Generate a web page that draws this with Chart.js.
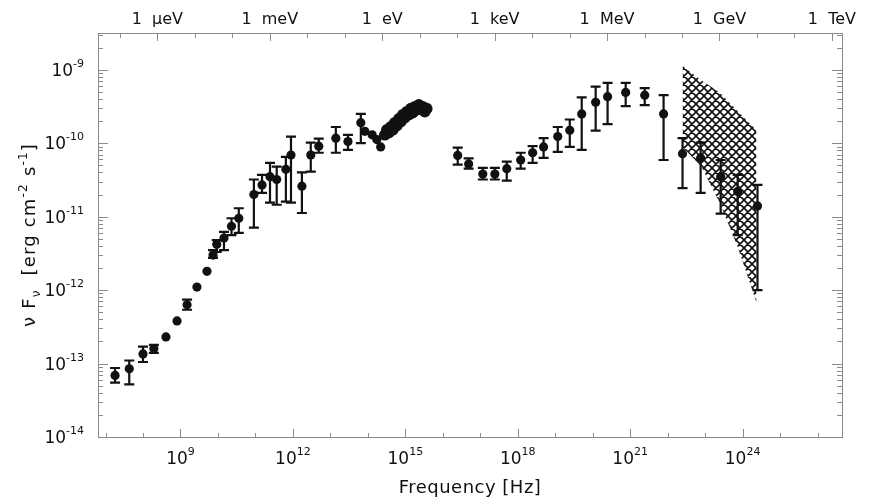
<!DOCTYPE html>
<html>
<head>
<meta charset="utf-8">
<script src="https://cdn.jsdelivr.net/npm/chart.js@4.4.1/dist/chart.umd.min.js"></script>
<style>
  body { margin: 0; background: #fff; }
  #wrap { width: 869px; height: 501px; }
</style>
</head>
<body>
<div id="wrap"><canvas id="sed" width="869" height="501"></canvas></div>
<script>
// measured points: frequency [Hz], nuFnu [erg cm^-2 s^-1]
const freq = [
  1.8e7, 4.3e7, 1.0e8, 1.95e8, 4.1e8, 8.1e8, 1.5e9, 2.75e9, 5.1e9,
  7.4e9, 9.3e9, 1.45e10, 2.3e10, 3.6e10, 9.1e10, 1.5e11, 2.45e11, 3.7e11,
  6.5e11, 8.9e11, 1.74e12, 3.0e12, 4.9e12, 1.4e13, 2.95e13, 6.5e13, 8.3e13,
  1.3e14, 1.74e14, 2.2e14,
  2.5e16, 4.9e16, 1.17e17, 2.45e17, 5.1e17, 1.2e18, 2.5e18, 4.9e18, 1.17e19,
  2.45e19, 5.1e19, 1.2e20, 2.5e20, 7.6e20, 2.45e21, 7.8e21,
  2.5e22, 7.6e22, 2.6e23, 7.4e23, 2.5e24
];
const flux = [
  6.9e-14, 8.5e-14, 1.35e-13, 1.6e-13, 2.3e-13, 3.8e-13, 6.3e-13, 1.1e-12, 1.8e-12,
  3.0e-12, 4.2e-12, 5.1e-12, 7.4e-12, 9.5e-12, 2.0e-11, 2.7e-11, 3.5e-11, 3.2e-11,
  4.4e-11, 6.9e-11, 2.6e-11, 6.9e-11, 9.1e-11, 1.17e-10, 1.05e-10, 1.9e-10, 1.45e-10,
  1.3e-10, 1.12e-10, 8.9e-11,
  6.8e-11, 5.2e-11, 3.8e-11, 3.8e-11, 4.5e-11, 5.9e-11, 7.4e-11, 8.9e-11, 1.23e-10,
  1.5e-10, 2.5e-10, 3.6e-10, 4.3e-10, 4.9e-10, 4.5e-10, 2.5e-10,
  7.2e-11, 6.3e-11, 3.5e-11, 2.2e-11, 1.4e-11
];
// ends of the error bars (null = no bar)
const fluxHi = [
  8.7e-14, 1.1e-13, 1.7e-13, 1.8e-13, null, null, 7.4e-13, null, null,
  3.5e-12, 4.8e-12, 6.2e-12, 9.5e-12, 1.3e-11, 3.2e-11, 3.7e-11, 5.4e-11, 4.8e-11,
  6.5e-11, 1.23e-10, 4.0e-11, 1.02e-10, 1.15e-10, 1.66e-10, 1.3e-10, 2.5e-10, null,
  null, null, null,
  8.7e-11, 6.2e-11, 4.6e-11, 4.6e-11, 5.6e-11, 7.4e-11, 9.1e-11, 1.17e-10, 1.66e-10,
  2.1e-10, 4.2e-10, 5.9e-10, 6.6e-10, 6.6e-10, 5.6e-10, 4.5e-10,
  1.17e-10, 1.02e-10, 5.9e-11, 3.7e-11, 2.7e-11
];
const fluxLo = [
  5.5e-14, 5.2e-14, 1.05e-13, 1.4e-13, null, null, 5.4e-13, null, null,
  2.75e-12, 3.3e-12, 3.5e-12, 5.6e-12, 6.0e-12, 7.1e-12, 2.1e-11, 1.55e-11, 1.45e-11,
  1.6e-11, 1.55e-11, 1.12e-11, 4.1e-11, 7.4e-11, 7.4e-11, 8.1e-11, 1.0e-10, null,
  null, null, null,
  5.1e-11, 4.5e-11, 3.2e-11, 3.2e-11, 3.1e-11, 4.5e-11, 5.4e-11, 6.3e-11, 7.6e-11,
  8.9e-11, 8.1e-11, 1.48e-10, 1.82e-10, 3.2e-10, 3.3e-10, 5.9e-11,
  2.45e-11, 2.1e-11, 1.1e-11, 5.6e-12, 1.0e-12
];

// dense optical / UV spectrum
const optFreq = [
  2.84e14, 3.21e14, 3.63e14, 4.10e14, 4.64e14, 5.25e14, 5.93e14, 6.71e14, 7.59e14,
  8.57e14, 9.70e14, 1.10e15, 1.24e15, 1.40e15, 1.58e15, 1.79e15, 2.03e15, 2.29e15,
  2.59e15, 2.93e15, 3.31e15, 3.74e15
];
const optFlux = [
  1.30e-10, 1.52e-10, 1.39e-10, 1.67e-10, 1.52e-10, 1.90e-10, 1.73e-10, 2.15e-10, 1.96e-10,
  2.44e-10, 2.22e-10, 2.68e-10, 2.44e-10, 2.95e-10, 2.60e-10, 3.13e-10, 2.85e-10, 3.33e-10,
  2.95e-10, 3.13e-10, 2.68e-10, 2.95e-10
];

// gamma-ray power-law range (butterfly)
const gammaFreq = [2.5e22, 7.9e22, 2.45e23, 7.4e23, 2.35e24];
const gammaUpper = [1.12e-9, 7.2e-10, 4.9e-10, 2.75e-10, 1.5e-10];
const gammaLower = [8.9e-11, 4.8e-11, 1.55e-11, 3.9e-12, 6.8e-13];

// axis ticks
const freqLabelTicks = [1e9, 1e12, 1e15, 1e18, 1e21, 1e24];
const fluxTicks = [1e-14, 1e-13, 1e-12, 1e-11, 1e-10, 1e-9];
const energyLabels = ['1  \u03bceV', '1  meV', '1  eV', '1  keV', '1  MeV', '1  GeV', '1  TeV'];
const energyLabelFreq = [2.418e8, 2.418e11, 2.418e14, 2.418e17, 2.418e20, 2.418e23, 2.418e26];

const FONT = '"DejaVu Sans", sans-serif';
const INK = '#111';
const AXIS = '#8a8a8a';

function hatchPattern() {
  const c = document.createElement('canvas');
  c.width = c.height = 8;
  const p = c.getContext('2d');
  p.strokeStyle = '#111';
  p.lineWidth = 1.6;
  p.beginPath();
  for (const o of [-8, 0, 8]) {
    p.moveTo(o, 0); p.lineTo(o + 8, 8);
    p.moveTo(o + 8, 0); p.lineTo(o, 8);
  }
  p.stroke();
  return p.createPattern(c, 'repeat');
}

// "10" with a raised exponent
function drawPow(ctx, exp, x, y, align) {
  const base = '10';
  const sup = String(exp);
  ctx.font = '17px ' + FONT;
  const wb = ctx.measureText(base).width;
  ctx.font = '11px ' + FONT;
  const ws = ctx.measureText(sup).width;
  const start = align === 'right' ? x - wb - ws : x - (wb + ws) / 2;
  ctx.textAlign = 'left';
  ctx.textBaseline = 'alphabetic';
  ctx.font = '17px ' + FONT;
  ctx.fillText(base, start, y);
  ctx.font = '11px ' + FONT;
  ctx.fillText(sup, start + wb, y - 9);
}

const errorBars = {
  id: 'errorBars',
  afterDatasetsDraw(chart) {
    const { ctx, scales: { x, y } } = chart;
    ctx.save();
    ctx.strokeStyle = INK;
    ctx.lineWidth = 2.2;
    freq.forEach((f, i) => {
      if (fluxHi[i] == null) return;
      const px = x.getPixelForValue(f);
      const top = y.getPixelForValue(fluxHi[i]);
      const bot = y.getPixelForValue(fluxLo[i]);
      ctx.beginPath();
      ctx.moveTo(px, top); ctx.lineTo(px, bot);
      ctx.moveTo(px - 5, top); ctx.lineTo(px + 5, top);
      ctx.moveTo(px - 5, bot); ctx.lineTo(px + 5, bot);
      ctx.stroke();
    });
    ctx.restore();
  }
};

const frame = {
  id: 'frame',
  afterDraw(chart) {
    const { ctx, chartArea: a, scales: { x, y } } = chart;
    ctx.save();
    ctx.strokeStyle = AXIS;
    ctx.lineWidth = 1;
    ctx.strokeRect(a.left + 0.5, a.top + 0.5, a.width, a.height);

    // y ticks on both sides, pointing inward
    ctx.beginPath();
    for (let e = -14; e <= -9; e++) {
      for (let m = 1; m <= 9; m++) {
        const v = m * Math.pow(10, e);
        if (v > y.max) break;
        const py = Math.round(y.getPixelForValue(v)) + 0.5;
        const len = m === 1 ? 10 : 5;
        ctx.moveTo(a.left, py); ctx.lineTo(a.left + len, py);
        ctx.moveTo(a.right, py); ctx.lineTo(a.right - len, py);
      }
    }
    // frequency ticks along the bottom
    for (let e = 7; e <= 26; e++) {
      const px = Math.round(x.getPixelForValue(Math.pow(10, e))) + 0.5;
      const len = e % 3 === 0 ? 8 : 4;
      ctx.moveTo(px, a.bottom); ctx.lineTo(px, a.bottom - len);
    }
    // energy ticks along the top, one per decade in eV
    for (let e = -7; e <= 12; e++) {
      const px = Math.round(x.getPixelForValue(2.418e14 * Math.pow(10, e))) + 0.5;
      const len = e % 3 === 0 ? 8 : 5;
      ctx.moveTo(px, a.top); ctx.lineTo(px, a.top + len);
    }
    ctx.stroke();

    ctx.fillStyle = INK;
    fluxTicks.forEach(v => {
      const py = y.getPixelForValue(v);
      drawPow(ctx, Math.round(Math.log10(v)), a.left - 14, py + 6, 'right');
    });
    freqLabelTicks.forEach(v => {
      drawPow(ctx, Math.round(Math.log10(v)), x.getPixelForValue(v), a.bottom + 27, 'center');
    });

    ctx.font = '16px ' + FONT;
    ctx.textAlign = 'center';
    ctx.textBaseline = 'alphabetic';
    energyLabels.forEach((t, i) => {
      ctx.fillText(t, x.getPixelForValue(energyLabelFreq[i]), 24);
    });

    ctx.font = '18px ' + FONT;
    ctx.letterSpacing = '0.5px';
    ctx.fillText('Frequency [Hz]', (a.left + a.right) / 2, 493);

    // y title with sub/superscripts, reading upward
    ctx.letterSpacing = '1.2px';
    const parts = [
      ['\u03bd F', 18, 0], ['\u03bd', 12, 5], ['  [erg cm', 18, 0], ['-2', 12, -8],
      [' s', 18, 0], ['-1', 12, -8], [']', 18, 0]
    ];
    let total = 0;
    parts.forEach(p => { ctx.font = p[1] + 'px ' + FONT; total += ctx.measureText(p[0]).width; });
    ctx.translate(35, (a.top + a.bottom) / 2);
    ctx.rotate(-Math.PI / 2);
    ctx.textAlign = 'left';
    let cx = -total / 2;
    parts.forEach(p => {
      ctx.font = p[1] + 'px ' + FONT;
      ctx.fillText(p[0], cx, p[2]);
      cx += ctx.measureText(p[0]).width;
    });
    ctx.restore();
  }
};

const ctx = document.getElementById('sed').getContext('2d');
const hatch = hatchPattern();

new Chart(ctx, {
  type: 'scatter',
  data: {
    datasets: [
      {
        data: freq.map((f, i) => ({ x: f, y: flux[i] })),
        pointRadius: 4.6,
        pointBackgroundColor: INK,
        pointBorderWidth: 0,
        order: 0,
      },
      {
        data: optFreq.map((f, i) => ({ x: f, y: optFlux[i] })),
        pointRadius: 5.8,
        pointBackgroundColor: INK,
        pointBorderWidth: 0,
        order: 0,
      },
      {
        type: 'line',
        data: gammaFreq.map((f, i) => ({ x: f, y: gammaUpper[i] })),
        borderWidth: 0,
        pointRadius: 0,
        backgroundColor: hatch,
        fill: '+1',
        order: 2,
      },
      {
        type: 'line',
        data: gammaFreq.map((f, i) => ({ x: f, y: gammaLower[i] })),
        borderWidth: 0,
        pointRadius: 0,
        fill: false,
        order: 2,
      },
    ],
  },
  options: {
    responsive: false,
    animation: false,
    devicePixelRatio: 1,
    layout: { padding: { left: 98, right: 27, top: 33, bottom: 64 } },
    scales: {
      x: { type: 'logarithmic', min: 6.3e6, max: 4.5e26, display: false },
      y: { type: 'logarithmic', min: 1e-14, max: 3.16e-9, display: false },
    },
    plugins: {
      legend: { display: false },
      tooltip: { enabled: false },
    },
  },
  plugins: [errorBars, frame],
});
</script>
</body>
</html>
